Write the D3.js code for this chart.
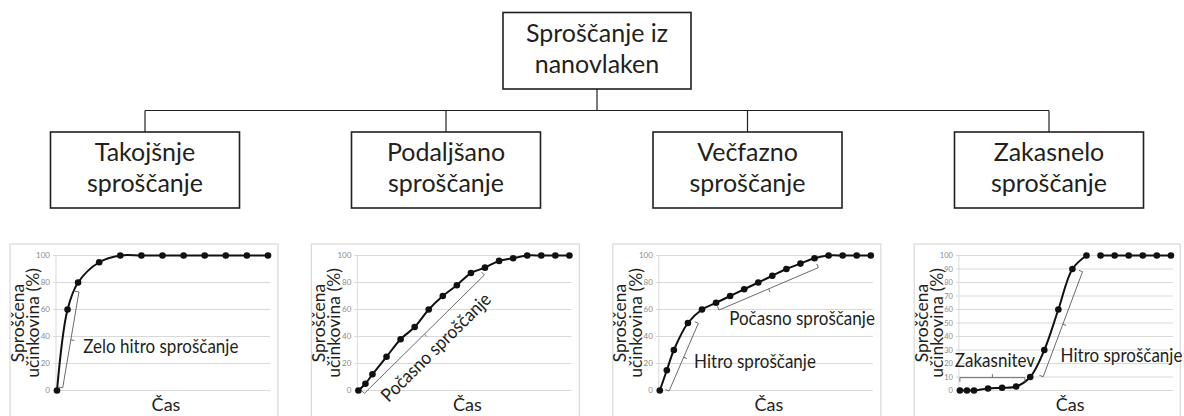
<!DOCTYPE html>
<html><head><meta charset="utf-8">
<script src="https://cdn.jsdelivr.net/npm/d3@7"></script>
<style>html,body{margin:0;padding:0;background:#fff}</style>
</head><body>
<svg id="c" width="1184" height="416"></svg>
<script>
// ---- data ----
const rootLabel = ["Sproščanje iz", "nanovlaken"];
const typeLabels = [
  ["Takojšnje", "sproščanje"],
  ["Podaljšano", "sproščanje"],
  ["Večfazno", "sproščanje"],
  ["Zakasnelo", "sproščanje"]
];
const yTitle = ["Sproščena", "učinkovina (%)"];
const xTitle = "Čas";

const timeShort = [0, 0.5, 1, 2, 3, 4, 5, 6, 7, 8, 9, 10];
const timeLong = [0, 0.5, 1, 2, 3, 4, 5, 6, 7, 8, 9, 10, 11, 12, 13, 14, 15];
const immediateValues = [0, 60, 80, 95, 100, 100, 100, 100, 100, 100, 100, 100];
const sustainedValues = [0, 5, 12, 25, 38, 47, 60, 70, 78, 87, 91, 96, 98, 100, 100, 100, 100];
const multiphaseValues = [0, 15, 30, 50, 60, 65, 70, 75, 80, 85, 90, 94, 98, 100, 100, 100, 100];
const delayedValues = [0, 0, 0, 1.5, 2, 3, 10, 30, 60, 90, 100, 100, 100, 100, 100, 100, 100];

const yTicksCoarse = [0, 20, 40, 60, 80, 100];
const yTicksFine = [0, 10, 20, 30, 40, 50, 60, 70, 80, 90, 100];

// annotations: bracket ends and label anchor in data units (time, %)
const annotations = [
  [ {label: "Zelo hitro sproščanje", b: [[0.27, 2], [1.04, 73]], tick: -1, t: [1.24, 27.8], rot: 0} ],
  [ {label: "Počasno sproščanje", b: [[0.43, -2.1], [8.96, 85.6]], tick: -1, t: [5.5, 32], rot: -44.6, mid: true} ],
  [ {label: "Hitro sproščanje", b: [[0.66, -0.4], [2.74, 49.8]], tick: -1, t: [2.44, 16.7], rot: 0},
    {label: "Počasno sproščanje", b: [[4.21, 59.6], [11.27, 91]], tick: -1, t: [4.93, 48.5], rot: 0} ],
  [ {label: "Zakasnitev", b: [[0, 9.5], [4.62, 9.5]], tick: 1, t: [-0.36, 17.6], rot: 0},
    {label: "Hitro sproščanje", b: [[5.92, 10.2], [8.72, 88]], tick: -1, t: [7.16, 21.3], rot: 0} ]
];

const charts = [
  {time: timeShort, values: immediateValues, domain: [0, 10], ticks: yTicksCoarse, breakAfter: null},
  {time: timeLong, values: sustainedValues, domain: [0, 15], ticks: yTicksCoarse, breakAfter: null},
  {time: timeLong, values: multiphaseValues, domain: [0, 15], ticks: yTicksCoarse, breakAfter: null},
  {time: timeLong, values: delayedValues, domain: [0, 15], ticks: yTicksFine, breakAfter: 10}
];

// ---- drawing ----
const svg = d3.select("#c");
const FONT = "Lato, 'Open Sans', sans-serif";
const INK = "#231f20";

// tree
const rootBox = {cx: 597, y: 12.5, w: 188, h: 76.5};
const childY = 132, childH = 76, childW = 189;
const childCx = [145, 446, 747.5, 1049];
const busY = 110.5;

function box(cx, y, w, h, lines) {
  svg.append("rect").attr("x", cx - w / 2).attr("y", y).attr("width", w).attr("height", h)
    .attr("fill", "#fff").attr("stroke", INK).attr("stroke-width", 1.6);
  const cy = y + h / 2;
  lines.forEach((s, i) => {
    svg.append("text").attr("x", cx).attr("y", cy - 9 + i * 31)
      .attr("text-anchor", "middle").attr("font-family", FONT).attr("font-size", 25)
      .attr("fill", INK).text(s);
  });
}
const links = svg.append("g").attr("stroke", INK).attr("stroke-width", 1.2).attr("fill", "none");
links.append("line").attr("x1", rootBox.cx).attr("x2", rootBox.cx).attr("y1", rootBox.y + rootBox.h).attr("y2", busY);
links.append("line").attr("x1", childCx[0]).attr("x2", childCx[3]).attr("y1", busY).attr("y2", busY);
childCx.forEach(cx => links.append("line").attr("x1", cx).attr("x2", cx).attr("y1", busY).attr("y2", childY));
box(rootBox.cx, rootBox.y, rootBox.w, rootBox.h, rootLabel);
childCx.forEach((cx, i) => box(cx, childY, childW, childH, typeLabels[i]));

// charts
const frameTop = 244, frameW = 268, step = 301.4;
const y = d3.scaleLinear().domain([0, 100]).range([390.5, 255.5]);

charts.forEach((c, i) => {
  const fl = 10 + step * i;
  const pl = fl + 47 - (i === 3 ? 1.3 : 0);
  const x = d3.scaleLinear().domain(c.domain).range([pl, pl + 211]);
  const g = svg.append("g");

  g.append("rect").attr("x", fl).attr("y", frameTop).attr("width", i === 3 ? frameW - 2 : frameW).attr("height", 200)
    .attr("fill", "#fff").attr("stroke", "#d9d9d9").attr("stroke-width", 1.2);

  // gridlines
  g.selectAll(".grid").data(c.ticks).join("line")
    .attr("x1", pl - 4).attr("x2", pl + 213)
    .attr("y1", d => y(d)).attr("y2", d => y(d))
    .attr("stroke", "#d9d9d9").attr("stroke-width", 1);
  g.append("line").attr("x1", pl - 1).attr("x2", pl - 1).attr("y1", y(0)).attr("y2", y(100))
    .attr("stroke", "#d9d9d9").attr("stroke-width", 1);

  // tick labels
  g.selectAll(".tl").data(c.ticks).join("text")
    .attr("x", pl - 7).attr("y", d => y(d)).attr("dy", "0.35em")
    .attr("text-anchor", "end").attr("font-family", FONT).attr("font-size", i === 3 ? 7.5 : 8)
    .attr("fill", "#8a8a8a").text(d => d);

  // y title
  yTitle.forEach((s, k) => {
    const bx = fl + 13.5 + k * 15.5;
    g.append("text").attr("transform", `translate(${bx},${(y(0) + y(100)) / 2}) rotate(-90)`)
      .attr("text-anchor", "middle").attr("font-family", FONT).attr("font-size", 17.5)
      .attr("fill", INK).text(s);
  });

  // x title
  g.append("text").attr("x", fl + 156).attr("y", 411).attr("text-anchor", "middle")
    .attr("font-family", FONT).attr("font-size", 18).attr("fill", INK).text(xTitle);

  // line
  const pts = c.time.map((t, k) => [t, c.values[k]]);
  const segs = c.breakAfter == null ? [pts] : [pts.slice(0, c.breakAfter + 1), pts.slice(c.breakAfter + 1)];
  const line = d3.line().x(d => x(d[0])).y(d => y(d[1])).curve(d3.curveCatmullRom.alpha(0.5));
  segs.forEach(s => g.append("path").attr("d", line(s)).attr("fill", "none")
    .attr("stroke", "#111").attr("stroke-width", 2));
  g.selectAll(".pt").data(pts).join("circle")
    .attr("cx", d => x(d[0])).attr("cy", d => y(d[1])).attr("r", 3.3).attr("fill", "#111");

  // annotations
  annotations[i].forEach(a => {
    const p1 = [x(a.b[0][0]), y(a.b[0][1])], p2 = [x(a.b[1][0]), y(a.b[1][1])];
    const dx = p2[0] - p1[0], dy = p2[1] - p1[1], L = Math.hypot(dx, dy);
    const nx = -dy / L * a.tick, ny = dx / L * a.tick;
    const m = [(p1[0] + p2[0]) / 2, (p1[1] + p2[1]) / 2];
    const path = `M${p1[0] + nx * 4},${p1[1] + ny * 4}L${p1[0]},${p1[1]}L${p2[0]},${p2[1]}L${p2[0] + nx * 4},${p2[1] + ny * 4}` +
      `M${m[0]},${m[1]}L${m[0] - nx * 3.5},${m[1] - ny * 3.5}`;
    g.append("path").attr("d", path).attr("fill", "none").attr("stroke", "#6b6b6b").attr("stroke-width", 1);
    const tx = x(a.t[0]), ty = y(a.t[1]);
    const t = g.append("text").attr("font-family", FONT).attr("font-size", 18.5).attr("fill", INK).text(a.label);
    if (a.mid) {
      t.attr("transform", `translate(${tx},${ty}) rotate(${a.rot}) scale(0.92,1)`).attr("text-anchor", "middle").attr("dy", "0.35em");
    } else {
      t.attr("transform", `translate(${tx},${ty}) scale(0.92,1)`);
    }
  });
});
</script>
</body></html>
